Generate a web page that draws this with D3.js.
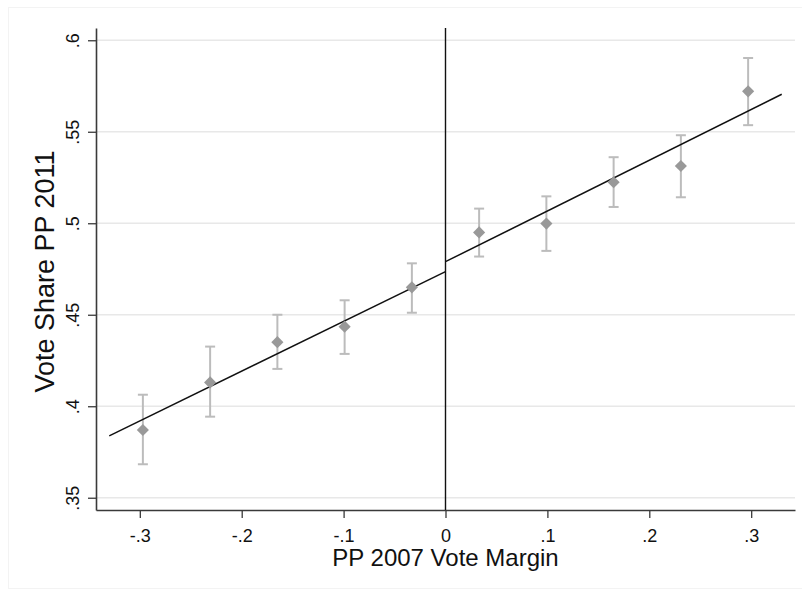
<!DOCTYPE html>
<html>
<head>
<meta charset="utf-8">
<script src="https://cdn.jsdelivr.net/npm/d3@7"></script>
<style>
  body { margin: 0; background: #fff; }
  text { font-family: 'Liberation Sans', Arial, sans-serif; }
</style>
</head>
<body>
<div id="chart"></div>
<script>
// Data
const binX = [-0.297, -0.231, -0.165, -0.099, -0.033, 0.033, 0.099, 0.165, 0.231, 0.297];
const binMean = [0.387, 0.413, 0.435, 0.4435, 0.465, 0.495, 0.4998, 0.5224, 0.5313, 0.5721];
const ciLow = [0.3683, 0.3943, 0.4204, 0.4286, 0.4511, 0.4818, 0.4849, 0.5089, 0.5142, 0.5536];
const ciHigh = [0.4063, 0.4326, 0.45, 0.4579, 0.4781, 0.508, 0.5147, 0.5361, 0.5481, 0.5903];

const fitLeftX = [-0.33, 0];
const fitLeftY = [0.3838, 0.4736];
const fitRightX = [0, 0.33];
const fitRightY = [0.479, 0.5705];

const xTicks = [-0.3, -0.2, -0.1, 0, 0.1, 0.2, 0.3];
const xTickLabels = ['-.3', '-.2', '-.1', '0', '.1', '.2', '.3'];
const yTicks = [0.35, 0.4, 0.45, 0.5, 0.55, 0.6];
const yTickLabels = ['.35', '.4', '.45', '.5', '.55', '.6'];

const W = 802, H = 589;
const plot = { l: 96, r: 795, t: 28, b: 510 };

const svg = d3.select('#chart')
  .append('svg')
  .attr('width', W)
  .attr('height', H);

// faint outer frame
svg.append('rect')
  .attr('x', 8.5).attr('y', 7.5)
  .attr('width', W - 8).attr('height', H - 8)
  .attr('fill', 'none')
  .attr('stroke', '#f3f3f3');

const x = d3.scaleLinear([-0.343, 0.343], [plot.l, plot.r]);
const y = d3.scaleLinear([0.3433, 0.6067], [plot.b, plot.t]);

// gridlines
svg.append('g')
  .selectAll('line')
  .data(yTicks)
  .join('line')
  .attr('x1', plot.l).attr('x2', plot.r)
  .attr('y1', (d) => y(d)).attr('y2', (d) => y(d))
  .attr('stroke', '#e8e8e8')
  .attr('stroke-width', 1.3);

// y axis
const yAxis = svg.append('g')
  .attr('transform', `translate(${plot.l}, 0)`)
  .call(d3.axisLeft(y).tickValues(yTicks).tickFormat((d, i) => yTickLabels[i]).tickSize(8).tickSizeOuter(0));
yAxis.select('.domain').attr('stroke', '#3a3a3a').attr('stroke-width', 1.6);
yAxis.selectAll('.tick line').attr('stroke', '#3a3a3a').attr('stroke-width', 1.3);
yAxis.selectAll('.tick text')
  .attr('transform', 'rotate(-90)')
  .attr('x', 0)
  .attr('y', -17)
  .attr('dy', 0)
  .style('text-anchor', 'middle')
  .style('font-size', '18px')
  .attr('fill', '#111');

// x axis
const xAxis = svg.append('g')
  .attr('transform', `translate(0, ${plot.b})`)
  .call(d3.axisBottom(x).tickValues(xTicks).tickFormat((d, i) => xTickLabels[i]).tickSize(8).tickPadding(11).tickSizeOuter(0));
xAxis.select('.domain').attr('stroke', '#3a3a3a').attr('stroke-width', 1.6);
xAxis.selectAll('.tick line').attr('stroke', '#3a3a3a').attr('stroke-width', 1.3);
xAxis.selectAll('.tick text').style('font-size', '18px').attr('fill', '#111');

// cutoff line
svg.append('line')
  .attr('x1', x(0)).attr('x2', x(0))
  .attr('y1', plot.t).attr('y2', plot.b)
  .attr('stroke', '#111')
  .attr('stroke-width', 1.4);

// error bars
const bars = svg.append('g')
  .attr('stroke', '#bcbcbc')
  .attr('stroke-width', 2)
  .selectAll('g')
  .data(binX.map((d, i) => ({ x: d, lo: ciLow[i], hi: ciHigh[i] })))
  .join('g');
bars.append('line')
  .attr('x1', (d) => x(d.x)).attr('x2', (d) => x(d.x))
  .attr('y1', (d) => y(d.lo)).attr('y2', (d) => y(d.hi));
bars.append('line')
  .attr('x1', (d) => x(d.x) - 5).attr('x2', (d) => x(d.x) + 5)
  .attr('y1', (d) => y(d.lo)).attr('y2', (d) => y(d.lo));
bars.append('line')
  .attr('x1', (d) => x(d.x) - 5).attr('x2', (d) => x(d.x) + 5)
  .attr('y1', (d) => y(d.hi)).attr('y2', (d) => y(d.hi));

// fitted lines
const line = d3.line().x((d) => x(d[0])).y((d) => y(d[1]));
[[fitLeftX, fitLeftY], [fitRightX, fitRightY]].forEach(([xs, ys]) => {
  svg.append('path')
    .datum(xs.map((d, i) => [d, ys[i]]))
    .attr('d', line)
    .attr('fill', 'none')
    .attr('stroke', '#111')
    .attr('stroke-width', 1.5);
});

// diamond markers
svg.append('g')
  .selectAll('path')
  .data(binX.map((d, i) => [d, binMean[i]]))
  .join('path')
  .attr('d', d3.symbol(d3.symbolSquare, 74))
  .attr('transform', (d) => `translate(${x(d[0])}, ${y(d[1])}) rotate(45)`)
  .attr('fill', '#999999');

// axis titles
svg.append('text')
  .attr('x', (plot.l + plot.r) / 2)
  .attr('y', 566)
  .attr('text-anchor', 'middle')
  .style('font-size', '24px')
  .attr('fill', '#111')
  .text('PP 2007 Vote Margin');

svg.append('text')
  .attr('transform', `translate(54, ${(143 + 400) / 2}) rotate(-90)`)
  .attr('text-anchor', 'middle')
  .style('font-size', '27px')
  .attr('fill', '#111')
  .text('Vote Share PP 2011');
</script>
</body>
</html>
